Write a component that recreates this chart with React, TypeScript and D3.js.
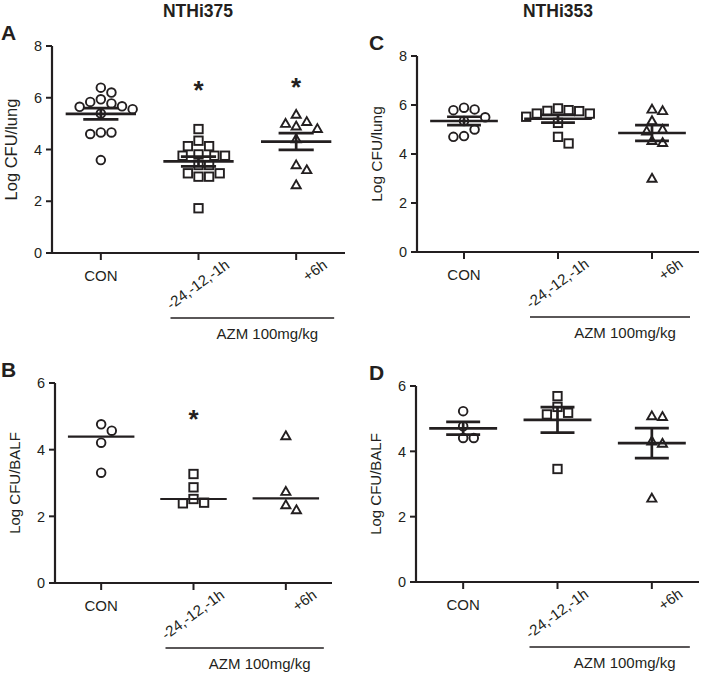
import * as d3 from 'd3';
import { useEffect } from 'react';

const groups = ['CON', '-24,-12,-1h', '+6h'];
const titles = ['NTHi375', 'NTHi353'];

// A: NTHi375, Log CFU/lung
const aCon = [6.39, 6.2, 5.94, 5.84, 5.78, 5.67, 5.65, 5.56, 5.39, 4.66, 4.66, 4.6, 3.59];
const aPre = [4.79, 4.34, 4.13, 4.13, 3.81, 3.76, 3.76, 3.76, 3.4, 3.4, 3.08, 3.08, 2.95, 2.95, 1.73];
const aPost = [5.35, 5.07, 5.0, 4.9, 4.8, 4.4, 3.4, 3.21, 2.63];
const aStars = [null, 6.48, 6.6];

// B: NTHi375, Log CFU/BALF
const bCon = [4.76, 4.57, 4.21, 3.31];
const bPre = [3.27, 2.87, 2.52, 2.41, 2.39];
const bPost = [4.41, 2.74, 2.34, 2.19];
const bStars = [null, 5.08, null];

// C: NTHi353, Log CFU/lung
const cCon = [5.89, 5.82, 5.79, 5.5, 5.35, 5.0, 4.73, 4.7];
const cPre = [5.86, 5.79, 5.76, 5.75, 5.65, 5.65, 5.52, 5.27, 4.7, 4.43];
const cPost = [5.82, 5.76, 5.35, 5.0, 4.93, 4.54, 4.46, 3.0];

// D: NTHi353, Log CFU/BALF
const dCon = [5.23, 4.77, 4.41, 4.41];
const dPre = [5.69, 5.36, 5.18, 5.13, 3.46];
const dPost = [5.08, 5.06, 4.31, 4.24, 2.56];

const lungTicks = [0, 2, 4, 6, 8];
const balfTicks = [0, 2, 4, 6];

const INK = '#231f20';
const FONT = '"Liberation Sans", Arial, Helvetica, sans-serif';

type Panel = {
  letter: string;
  yLabel: string;
  labelSize: number;
  ticks: number[];
  sets: number[][];
  stars: (number | null)[];
  summary: 'sem' | 'median';
  box: { l: number; r: number; t: number; b: number };
};

const panels: Panel[] = [
  { letter: 'A', yLabel: 'Log CFU/lung', labelSize: 16.5, ticks: lungTicks, sets: [aCon, aPre, aPost], stars: aStars, summary: 'sem', box: { l: 52, r: 345, t: 46, b: 253 } },
  { letter: 'B', yLabel: 'Log CFU/BALF', labelSize: 15, ticks: balfTicks, sets: [bCon, bPre, bPost], stars: bStars, summary: 'median', box: { l: 55, r: 332, t: 383, b: 583 } },
  { letter: 'C', yLabel: 'Log CFU/lung', labelSize: 15.5, ticks: lungTicks, sets: [cCon, cPre, cPost], stars: [null, null, null], summary: 'sem', box: { l: 417, r: 699, t: 56, b: 252 } },
  { letter: 'D', yLabel: 'Log CFU/BALF', labelSize: 15, ticks: balfTicks, sets: [dCon, dPre, dPost], stars: [null, null, null], summary: 'sem', box: { l: 416, r: 699, t: 386, b: 582 } },
];

// simple beeswarm: spread points sideways so markers don't overlap
function swarm(vals: number[], y: (v: number) => number, d: number) {
  const placed: { x: number; y: number }[] = [];
  const out: number[] = new Array(vals.length).fill(0);
  const order = vals.map((v, i) => ({ v, i })).sort((a, b) => b.v - a.v);
  for (const { v, i } of order) {
    const py = y(v);
    let off = 0;
    for (let n = 0; n < 40; n++) {
      off = n === 0 ? 0 : (n % 2 ? 1 : -1) * Math.ceil(n / 2) * (d / 2);
      if (placed.every((p) => Math.hypot(p.x - off, p.y - py) >= d)) break;
    }
    placed.push({ x: off, y: py });
    out[i] = off;
  }
  return out;
}

const triPath = d3.symbol(d3.symbolTriangle, 36)() as string;

function Marker({ kind, x, y }: { kind: number; x: number; y: number }) {
  const common = { fill: '#fff', stroke: INK, strokeWidth: 1.9 };
  if (kind === 0) return <circle cx={x} cy={y} r={4.3} {...common} />;
  if (kind === 1) return <rect x={x - 4.2} y={y - 4.2} width={8.4} height={8.4} {...common} />;
  return <path d={triPath} transform={`translate(${x},${y + 0.6})`} {...common} />;
}

function PanelView({ p }: { p: Panel }) {
  const { l, r, t, b } = p.box;
  const yMax = p.ticks[p.ticks.length - 1];
  const y = d3.scaleLinear().domain([0, yMax]).range([b, t]);
  const x = d3.scalePoint<string>().domain(groups).range([l, r]).padding(0.5);
  const step = x.step();

  const bx1 = (x(groups[1]) as number) - 28;
  const bx2 = (x(groups[2]) as number) + 38;
  const by = b + 65;

  return (
    <g>
      <text x={p.letter === 'A' || p.letter === 'B' ? 1 : 369} y={t - 6} fontFamily={FONT} fontWeight="bold" fontSize={21} fill={INK}>
        {p.letter}
      </text>
      {/* y axis */}
      <line x1={l} x2={l} y1={t} y2={b} stroke={INK} strokeWidth={2.2} />
      {p.ticks.map((tk) => (
        <g key={tk}>
          <line x1={l - 6} x2={l} y1={y(tk)} y2={y(tk)} stroke={INK} strokeWidth={2} />
          <text x={l - 10} y={y(tk)} dy="0.36em" textAnchor="end" fontFamily={FONT} fontSize={14.5} fill={INK}>
            {tk}
          </text>
        </g>
      ))}
      <text
        transform={`translate(${l - 35},${(t + b) / 2}) rotate(-90)`}
        textAnchor="middle"
        fontFamily={FONT}
        fontSize={p.labelSize}
        fill={INK}
      >
        {p.yLabel}
      </text>
      {/* x axis */}
      <line x1={l - 6} x2={r} y1={b} y2={b} stroke={INK} strokeWidth={2.2} />
      {groups.map((g, gi) => {
        const gx = x(g) as number;
        return (
          <g key={g}>
            <line x1={gx} x2={gx} y1={b} y2={b + 7} stroke={INK} strokeWidth={2} />
            {gi === 0 ? (
              <text x={gx} y={b + 28} textAnchor="middle" fontFamily={FONT} fontSize={15} fill={INK}>
                {g}
              </text>
            ) : (
              <text
                transform={`translate(${gx + 32},${b + 14}) rotate(-36)`}
                textAnchor="end"
                fontFamily={FONT}
                fontSize={15}
                fill={INK}
              >
                {g}
              </text>
            )}
          </g>
        );
      })}
      <line x1={bx1} x2={bx2} y1={by} y2={by} stroke={INK} strokeWidth={1.5} />
      <text x={(bx1 + bx2) / 2 + 15} y={by + 21} textAnchor="middle" fontFamily={FONT} fontSize={15} fill={INK}>
        AZM 100mg/kg
      </text>
      {/* points and summaries */}
      {p.sets.map((vals, gi) => {
        const gx = x(groups[gi]) as number;
        const offs = swarm(vals, y, 10.6);
        let summary = null;
        if (p.summary === 'sem') {
          const m = d3.mean(vals) as number;
          const se = (d3.deviation(vals) as number) / Math.sqrt(vals.length);
          const hw = step * 0.36;
          const cw = step * 0.18;
          summary = (
            <g stroke={INK} strokeWidth={2.7}>
              <line x1={gx - hw} x2={gx + hw} y1={y(m)} y2={y(m)} />
              <line x1={gx} x2={gx} y1={y(m + se)} y2={y(m - se)} />
              <line x1={gx - cw} x2={gx + cw} y1={y(m + se)} y2={y(m + se)} />
              <line x1={gx - cw} x2={gx + cw} y1={y(m - se)} y2={y(m - se)} />
            </g>
          );
        } else {
          const md = d3.median(vals) as number;
          const hw = step * 0.36;
          summary = <line x1={gx - hw} x2={gx + hw} y1={y(md)} y2={y(md)} stroke={INK} strokeWidth={2.2} />;
        }
        const star = p.stars[gi];
        return (
          <g key={gi}>
            {vals.map((v, i) => (
              <Marker key={i} kind={gi} x={gx + offs[i]} y={y(v)} />
            ))}
            {summary}
            {star != null && (
              <text x={gx} y={y(star) + 14} textAnchor="middle" fontFamily={FONT} fontWeight="bold" fontSize={26} fill={INK}>
                *
              </text>
            )}
          </g>
        );
      })}
    </g>
  );
}

export default function App() {
  useEffect(() => {
    document.body.style.margin = '0';
  }, []);

  const titleX = [198, 558];

  return (
    <svg width={701} height={675} viewBox="0 0 701 675" style={{ display: 'block', background: '#fff' }}>
      {titles.map((tt, i) => (
        <text key={tt} x={titleX[i]} y={17} textAnchor="middle" fontFamily={FONT} fontWeight="bold" fontSize={17.5} fill={INK}>
          {tt}
        </text>
      ))}
      {panels.map((p) => (
        <PanelView key={p.letter} p={p} />
      ))}
    </svg>
  );
}
